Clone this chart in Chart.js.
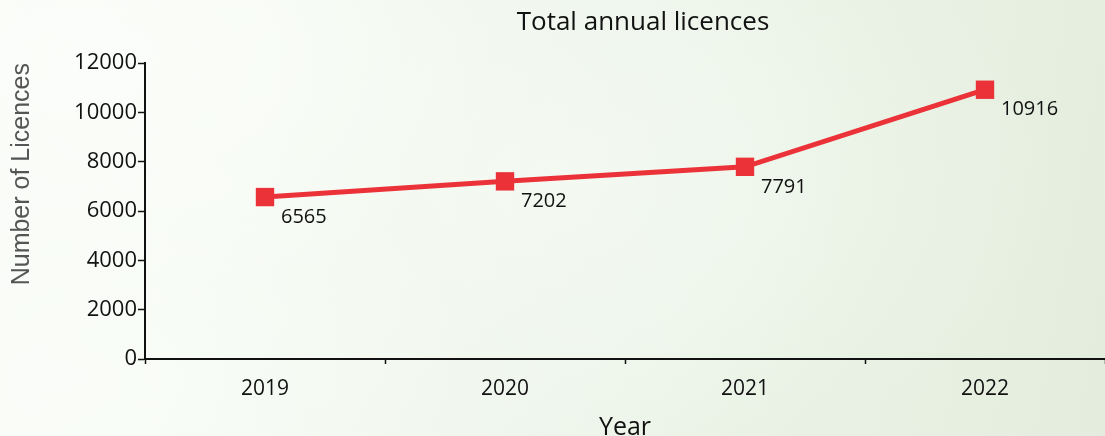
<!DOCTYPE html>
<html>
<head>
<meta charset="utf-8">
<script src="https://cdn.jsdelivr.net/npm/chart.js@4.4.1/dist/chart.umd.min.js"></script>
<style>
    html, body {
        margin: 0;
        padding: 0;
        overflow: hidden;
    }
    body {
        width: 1105px;
        height: 436px;
        background:
            radial-gradient(ellipse 420px 300px at 60px 380px, rgba(250, 253, 249, 0.9), rgba(250, 253, 249, 0) 100%),
            radial-gradient(ellipse 420px 260px at 90px 60px, rgba(252, 254, 251, 0.9), rgba(252, 254, 251, 0) 100%),
            radial-gradient(ellipse 500px 300px at 560px 180px, rgba(246, 251, 244, 0.7), rgba(246, 251, 244, 0) 100%),
            linear-gradient(100deg, #f8fbf6 0%, #f0f6ed 45%, #e8f1e3 75%, #e4eddd 100%);
    }
    #licences-chart {
        display: block;
    }
</style>
</head>
<body>
<canvas id="licences-chart" width="1105" height="436"></canvas>
<script>
var years = ['2019', '2020', '2021', '2022'];
var licences = [6565, 7202, 7791, 10916];
var y_ticks = [0, 2000, 4000, 6000, 8000, 10000, 12000];

var chart_title = 'Total annual licences';
var x_title = 'Year';
var y_title = 'Number of Licences';

var line_red = '#ec3239';

// title sits a bit right of the plot centre, so it is drawn by hand
var title_plugin = {
    id: 'title_plugin',
    afterDraw: function (chart) {
        var ctx = chart.ctx;
        var area = chart.chartArea;
        ctx.save();
        ctx.font = '26px "Open Sans"';
        ctx.fillStyle = '#111';
        ctx.textAlign = 'center';
        ctx.textBaseline = 'middle';
        ctx.fillText(chart_title, (area.left + area.right) / 2 + 18, 23);
        ctx.restore();
    }
};

// value next to each marker, below and to the right
var value_labels = {
    id: 'value_labels',
    afterDatasetsDraw: function (chart) {
        var ctx = chart.ctx;
        var meta = chart.getDatasetMeta(0);
        ctx.save();
        ctx.font = '20px "Open Sans"';
        ctx.fillStyle = '#111';
        ctx.textAlign = 'left';
        ctx.textBaseline = 'middle';
        meta.data.forEach(function (pt, i) {
            ctx.fillText(String(licences[i]), pt.x + 16, pt.y + 20);
        });
        ctx.restore();
    }
};

var ctx = document.getElementById('licences-chart').getContext('2d');
var licences_chart = new Chart(ctx, {
    type: 'line',
    data: {
        labels: years,
        datasets: [{
            data: licences,
            label: 'Licences',
            fill: false,
            borderColor: line_red,
            backgroundColor: line_red,
            borderWidth: 5,
            tension: 0,
            pointStyle: 'rect',
            pointRadius: 13,
            pointHoverRadius: 13,
            pointBorderWidth: 0,
            pointBackgroundColor: line_red,
        }]
    },
    plugins: [title_plugin, value_labels],
    options: {
        responsive: false,
        animation: false,
        layout: {
            autoPadding: false,
            padding: {top: 63, right: 0, bottom: 0, left: 0}
        },
        plugins: {
            legend: {display: false},
            title: {display: false},
            tooltip: {enabled: false}
        },
        scales: {
            x: {
                offset: true,
                grid: {
                    offset: true,
                    drawOnChartArea: false,
                    drawTicks: true,
                    tickLength: 5,
                    tickWidth: 1.5,
                    color: '#111'
                },
                border: {display: true, color: '#111', width: 2},
                ticks: {
                    color: '#111',
                    padding: 12,
                    font: {family: 'Open Sans', size: 21}
                },
                title: {
                    display: true,
                    text: x_title,
                    color: '#111',
                    font: {family: 'Open Sans', size: 25, lineHeight: 1.0},
                    padding: {top: 0, bottom: -4}
                },
                afterFit: function (scale) {
                    scale.height = 77;
                }
            },
            y: {
                min: 0,
                max: 12000,
                afterBuildTicks: function (scale) {
                    scale.ticks = y_ticks.map(function (v) { return {value: v}; });
                },
                grid: {
                    drawOnChartArea: false,
                    drawTicks: true,
                    tickLength: 7,
                    tickWidth: 1.5,
                    color: '#111'
                },
                border: {display: true, color: '#111', width: 2},
                ticks: {
                    color: '#111',
                    padding: 1,
                    font: {family: 'Open Sans', size: 22},
                    callback: function (value) {
                        return String(value);
                    }
                },
                title: {
                    display: true,
                    text: y_title,
                    align: 'end',
                    color: '#555',
                    font: {family: 'Liberation Sans', size: 25, lineHeight: 1.2},
                    padding: {top: 7, bottom: 0}
                },
                afterFit: function (scale) {
                    scale.width = 145;
                }
            }
        }
    }
});
</script>
</body>
</html>
